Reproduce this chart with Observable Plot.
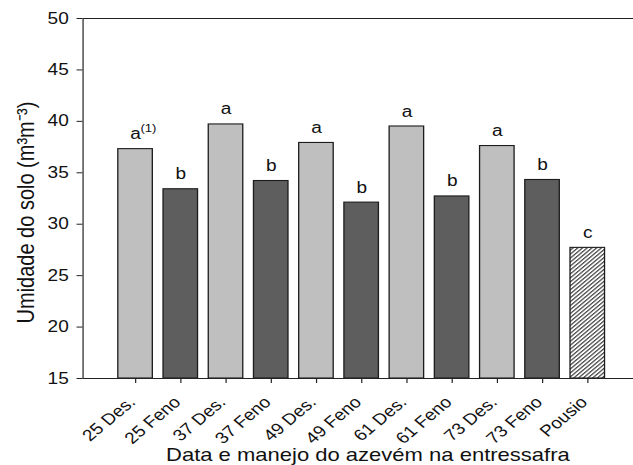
<!DOCTYPE html>
<html>
<head>
<meta charset="utf-8">
<script src="https://cdn.jsdelivr.net/npm/d3@7"></script>
<script src="https://cdn.jsdelivr.net/npm/@observablehq/plot@0.6"></script>
<style>
  html, body { margin: 0; padding: 0; background: #fff; overflow: hidden; }
  #chart { width: 633px; height: 465px; overflow: hidden; }
  /* the figure is drawn at its native width and widened to the page */
  #chart svg { overflow: hidden; transform: scaleX(1.19); transform-origin: 0 0; }
</style>
</head>
<body>
<!-- diagonal hatch used for the fallow (Pousio) bar -->
<svg width="0" height="0" style="position:absolute">
  <defs>
    <pattern id="hatch" patternUnits="userSpaceOnUse" width="2.8" height="2.8" patternTransform="rotate(45)">
      <rect width="2.8" height="2.8" fill="#fff"></rect>
      <line x1="0.6" y1="0" x2="0.6" y2="2.8" stroke="#2a2a2a" stroke-width="1"></line>
    </pattern>
  </defs>
</svg>
<div id="chart"></div>
<script>
// Soil moisture by ryegrass sowing date and management
const categories = ["25 Des.", "25 Feno", "37 Des.", "37 Feno", "49 Des.", "49 Feno",
                    "61 Des.", "61 Feno", "73 Des.", "73 Feno", "Pousio"];
const moisture = [37.3, 33.4, 39.7, 34.2, 37.9, 32.1, 39.5, 32.7, 37.6, 34.3, 27.7];
const letters = ["a", "b", "a", "b", "a", "b", "a", "b", "a", "b", "c"];
const footnote = "(1)";
const yTicks = [15, 20, 25, 30, 35, 40, 45, 50];
const yLabel = "Umidade do solo (m³m⁻³)";
const xLabel = "Data e manejo do azevém na entressafra";

const data = categories.map((c, i) => ({
  cat: c,
  v: moisture[i],
  letter: letters[i],
  kind: c.endsWith("Des.") ? "des" : c.endsWith("Feno") ? "feno" : "pousio"
}));

const barOpts = {x: "cat", y1: 15, y2: "v", stroke: "#1c1c1c", strokeWidth: 1.1};

const chart = Plot.plot({
  width: 532,
  height: 465,
  marginLeft: 69.3,
  marginRight: -8,
  marginTop: 18,
  marginBottom: 87,
  style: {
    fontFamily: "'Liberation Sans', Arial, sans-serif",
    fontSize: "16px",
    color: "#111",
    background: "#fff"
  },
  x: {domain: categories, range: [69.7, 537.8], paddingInner: 0.244, paddingOuter: 0.642},
  y: {domain: [15, 50], range: [378, 18]},
  marks: [
    Plot.barY(data.filter(d => d.kind === "des"), {...barOpts, fill: "#bfbfbf"}),
    Plot.barY(data.filter(d => d.kind === "feno"), {...barOpts, fill: "#5e5e5e"}),
    Plot.barY(data.filter(d => d.kind === "pousio"), {...barOpts, fill: "url(#hatch)"}),
    Plot.frame({stroke: "#222", strokeWidth: 1}),
    Plot.axisY({ticks: yTicks, tickSize: 5, tickPadding: 7, label: null, fontSize: 16, stroke: "#222"}),
    Plot.axisX({tickSize: 5, tickFormat: () => "", label: null, stroke: "#222"}),
    Plot.axisX({tickSize: 0, tickRotate: -45, tickPadding: 21, dx: -3, label: null, fontSize: 16, fill: "#111"}),
    Plot.text(data, {x: "cat", y: "v", text: "letter", dy: -10, lineAnchor: "bottom", fontSize: 16, fill: "#111"}),
    Plot.text(data.slice(0, 1), {x: "cat", y: "v", text: () => footnote, textAnchor: "start",
      dx: 4, dy: -17, lineAnchor: "bottom", fontSize: 11, fill: "#111"}),
    Plot.text([yLabel], {frameAnchor: "left", textAnchor: "middle", lineAnchor: "middle",
      dx: -47.5, dy: 14, rotate: -90, fontSize: 20, fill: "#111"}),
    Plot.text([xLabel], {frameAnchor: "bottom", lineAnchor: "bottom", dx: 4, dy: 82, fontSize: 18.5, fill: "#111"})
  ]
});

document.getElementById("chart").appendChild(chart);
</script>
</body>
</html>
